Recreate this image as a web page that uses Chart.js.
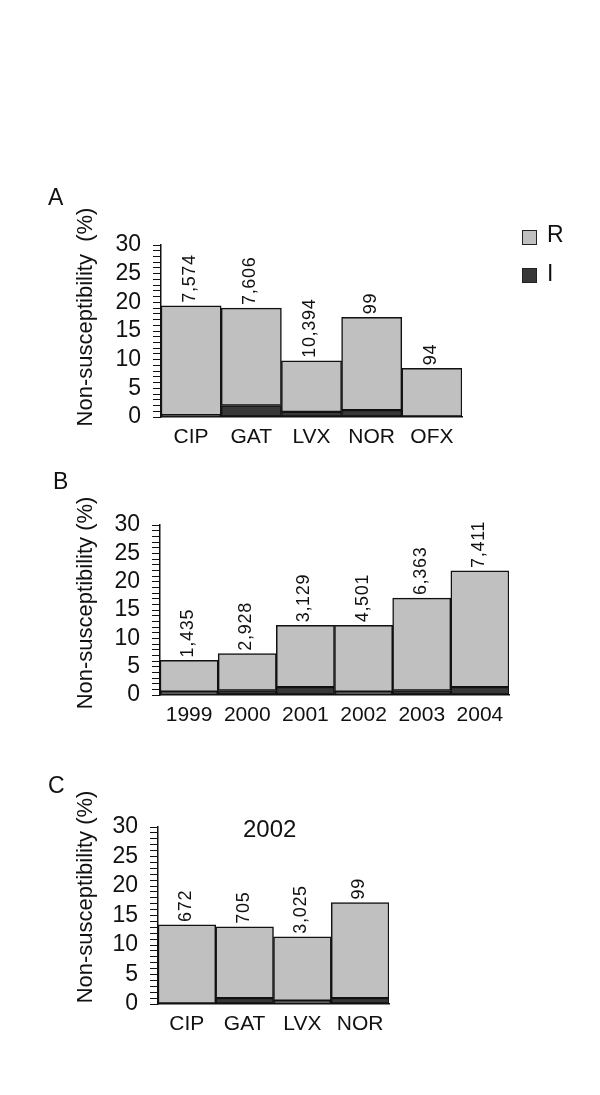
<!DOCTYPE html>
<html>
<head>
<meta charset="utf-8">
<script src="https://cdn.jsdelivr.net/npm/chart.js@4.4.1/dist/chart.umd.min.js"></script>
<style>
    body { margin: 0; background: #fff; width: 600px; height: 1095px; position: relative; overflow: hidden;
           font-family: "Liberation Sans", Arial, sans-serif; color: #111; }
    canvas { position: absolute; left: 0; }
    .txt { position: absolute; font-size: 23px; line-height: 1; white-space: nowrap; }
    .sw { position: absolute; width: 13px; height: 13px; border: 1.5px solid #222; }
</style>
</head>
<body>
<canvas id="chartA" width="600" height="300" style="top:170px"></canvas>
<canvas id="chartB" width="600" height="265" style="top:465px"></canvas>
<canvas id="chartC" width="600" height="290" style="top:780px"></canvas>

<div class="txt" style="left:48px;top:186px">A</div>
<div class="txt" style="left:53px;top:470px">B</div>
<div class="txt" style="left:48px;top:774px">C</div>
<div class="txt" style="left:243px;top:817px;font-size:24px">2002</div>

<div class="sw" style="left:522px;top:230px;background:#c0c0c0"></div>
<div class="txt" style="left:547px;top:223px">R</div>
<div class="sw" style="left:522px;top:268px;background:#383838"></div>
<div class="txt" style="left:547px;top:262px">I</div>

<script>
// Panel A - by agent
const drugsA = ['CIP', 'GAT', 'LVX', 'NOR', 'OFX'];
const intermA = [0.3, 2.0, 0.9, 1.2, 0];
const resistA = [19.1, 17.0, 8.9, 16.2, 8.5];
const countsA = ['7,574', '7,606', '10,394', '99', '94'];

// Panel B - by year
const yearsB = ['1999', '2000', '2001', '2002', '2003', '2004'];
const intermB = [0.6, 0.8, 1.4, 0.6, 0.8, 1.4];
const resistB = [5.5, 6.5, 10.9, 11.7, 16.3, 20.5];
const countsB = ['1,435', '2,928', '3,129', '4,501', '6,363', '7,411'];

// Panel C - 2002 by agent
const drugsC = ['CIP', 'GAT', 'LVX', 'NOR'];
const intermC = [0, 1.0, 0.55, 1.0];
const resistC = [13.4, 12.1, 10.85, 16.2];
const countsC = ['672', '705', '3,025', '99'];

const yTicks = [0, 5, 10, 15, 20, 25, 30];

const FONT = '"Liberation Sans", Arial, sans-serif';
const GREY = '#c0c0c0';
const DARK = '#383838';
const INK = '#111';
const XH = 45;

// rotated count labels above each bar
const countLabels = {
    id: 'countLabels',
    afterDatasetsDraw(chart, args, opts) {
        const ctx = chart.ctx;
        const meta = chart.getDatasetMeta(1);
        ctx.save();
        ctx.font = '18px ' + FONT;
        ctx.letterSpacing = '0.7px';
        ctx.fillStyle = INK;
        ctx.textAlign = 'left';
        ctx.textBaseline = 'middle';
        meta.data.forEach((bar, i) => {
            ctx.save();
            ctx.translate(bar.x - 1, bar.y - 3);
            ctx.rotate(-Math.PI / 2);
            ctx.fillText(opts.counts[i], 0, 0);
            ctx.restore();
        });
        ctx.restore();
    }
};

// y axis title, placed by hand like the original figure
const yTitle = {
    id: 'yTitle',
    afterDraw(chart, args, opts) {
        const ctx = chart.ctx;
        ctx.save();
        ctx.font = '22px ' + FONT;
        ctx.fillStyle = INK;
        ctx.textAlign = 'center';
        ctx.textBaseline = 'middle';
        ctx.translate(opts.x, opts.y);
        ctx.rotate(-Math.PI / 2);
        ctx.fillText(opts.text, 0, 0);
        ctx.restore();
    }
};

function makePanel(id, canvasTop, area, labels, interm, resist, counts, title) {
    const canvas = document.getElementById(id);
    const h = canvas.height;
    return new Chart(canvas, {
        type: 'bar',
        data: {
            labels: labels,
            datasets: [
                { label: 'I', data: interm, backgroundColor: DARK },
                { label: 'R', data: resist, backgroundColor: GREY }
            ]
        },
        options: {
            responsive: false,
            animation: false,
            categoryPercentage: 1,
            barPercentage: 1,
            borderColor: INK,
            borderWidth: 1.5,
            borderSkipped: false,
            layout: {
                padding: {
                    top: area.top - canvasTop,
                    left: 0,
                    right: 600 - area.right,
                    bottom: canvasTop + h - area.bottom - XH
                }
            },
            scales: {
                x: {
                    stacked: true,
                    grid: { display: false, drawTicks: false },
                    border: { color: INK, width: 1.5 },
                    ticks: { color: INK, font: { family: FONT, size: 21 }, padding: 8 },
                    afterFit(s) { s.height = XH; }
                },
                y: {
                    stacked: true,
                    min: 0,
                    max: 30,
                    grid: { display: true, drawOnChartArea: false, drawTicks: true, tickLength: 8, color: INK },
                    border: { color: INK, width: 1.5 },
                    ticks: {
                        stepSize: 1,
                        autoSkip: false,
                        color: INK,
                        padding: 12,
                        font: { family: FONT, size: 23 },
                        callback: v => yTicks.includes(v) ? String(v) : ''
                    },
                    afterFit(s) { s.width = area.left; }
                }
            },
            plugins: {
                legend: { display: false },
                tooltip: { enabled: false },
                countLabels: { counts: counts },
                yTitle: { text: title, x: 86, y: area.titleY - canvasTop }
            }
        },
        plugins: [countLabels, yTitle]
    });
}

makePanel('chartA', 170, { left: 161, right: 462, top: 245, bottom: 417, titleY: 317 },
    drugsA, intermA, resistA, countsA, 'Non-susceptibility  (%)');
makePanel('chartB', 465, { left: 160, right: 509, top: 525, bottom: 695, titleY: 603 },
    yearsB, intermB, resistB, countsB, 'Non-susceptibility (%)');
makePanel('chartC', 780, { left: 158, right: 389, top: 827, bottom: 1004, titleY: 897 },
    drugsC, intermC, resistC, countsC, 'Non-susceptibility (%)');
</script>
</body>
</html>
